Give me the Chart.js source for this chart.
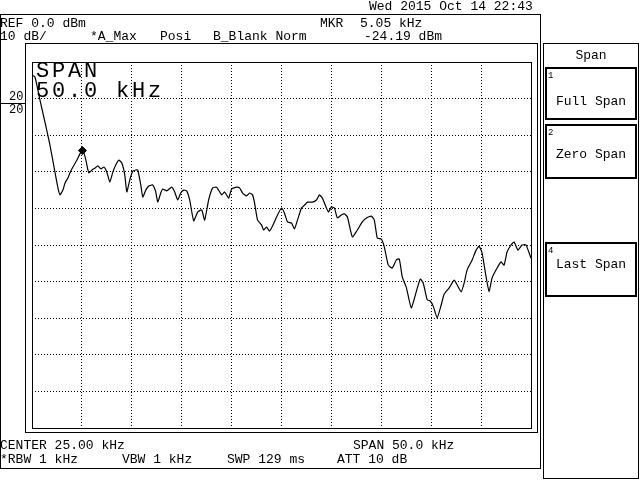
<!DOCTYPE html>
<html lang="en">
<head>
<meta charset="UTF-8">
<title>Span 50.0 kHz</title>
<script src="https://cdn.jsdelivr.net/npm/chart.js"></script>
<style>
  body { margin: 0; background: #fff; }
  #wrap { position: relative; width: 640px; height: 480px; overflow: hidden;
          font-family: "Liberation Mono", "DejaVu Sans Mono", monospace; font-size: 13px; color: #000; }
  #wrap canvas { position: absolute; left: 0; top: 0; }
  .t { position: absolute; white-space: pre; line-height: 1; }
  .box { position: absolute; border: 1px solid #000; box-sizing: border-box; }
  .btn { position: absolute; left: 545px; width: 92px; border: 2px solid #000; box-sizing: border-box; }
  .btn .n { position: absolute; left: 1px; top: 2px; font-size: 9px; }
  .btn .l { position: absolute; left: 0; right: 0; text-align: center; }
  .big { font-size: 22px; letter-spacing: 2.8px; }
</style>
</head>
<body>
<div id="wrap">
  <canvas id="trace" width="640" height="480"></canvas>

  <!-- frames -->
  <div class="box" style="left:0;top:14px;width:541px;height:455px"></div>
  <div class="box" style="left:25px;top:43px;width:513px;height:390px"></div>
  <div class="box" style="left:543px;top:43px;width:96px;height:436px"></div>
  <div style="position:absolute;left:0;top:103px;width:25px;height:1px;background:#000"></div>

  <!-- header -->
  <div class="t" style="left:369px;top:0px">Wed 2015 Oct 14 22:43</div>
  <div class="t" style="left:0;top:17px">REF 0.0 dBm</div>
  <div class="t" style="left:0;top:30px">10 dB/</div>
  <div class="t" style="left:90px;top:30px">*A_Max</div>
  <div class="t" style="left:160px;top:30px">Posi</div>
  <div class="t" style="left:213px;top:30px">B_Blank Norm</div>
  <div class="t" style="left:320px;top:17px">MKR</div>
  <div class="t" style="left:360px;top:17px">5.05 kHz</div>
  <div class="t" style="left:364px;top:30px">-24.19 dBm</div>

  <!-- left scale labels -->
  <div class="t" style="left:9px;top:91px;font-size:12px">20</div>
  <div class="t" style="left:9px;top:104px;font-size:12px">20</div>

  <!-- span annotation -->
  <div class="t big" style="left:36px;top:61px">SPAN</div>
  <div class="t big" style="left:36px;top:81px">50.0 kHz</div>

  <!-- footer -->
  <div class="t" style="left:0;top:439px">CENTER 25.00 kHz</div>
  <div class="t" style="left:353px;top:439px">SPAN 50.0 kHz</div>
  <div class="t" style="left:0;top:453px">*RBW 1 kHz</div>
  <div class="t" style="left:122px;top:453px">VBW 1 kHz</div>
  <div class="t" style="left:227px;top:453px">SWP 129 ms</div>
  <div class="t" style="left:337px;top:453px">ATT 10 dB</div>

  <!-- soft key panel -->
  <div class="t" style="left:543px;width:96px;text-align:center;top:49px">Span</div>
  <div class="btn" style="top:67px;height:53px"><span class="n">1</span><span class="l" style="top:25px">Full Span</span></div>
  <div class="btn" style="top:124px;height:55px"><span class="n">2</span><span class="l" style="top:21px">Zero Span</span></div>
  <div class="btn" style="top:242px;height:55px"><span class="n">4</span><span class="l" style="top:13px">Last Span</span></div>
</div>

<script>
// trace: frequency (kHz) and level (dBm)
const freqKHz = [
  0.0, 0.3, 0.8, 1.3, 1.8, 2.3, 2.6, 2.8, 3.1, 3.3, 3.6, 3.8, 4.1, 4.5, 4.8, 5.05,
  5.2, 5.4, 5.6, 5.7, 6.0, 6.3, 6.6, 6.9, 7.2, 7.5, 7.8, 8.1, 8.4, 8.7, 9.0, 9.3,
  9.5, 9.8, 10.1, 10.4, 10.6, 10.9, 11.1, 11.4, 11.7, 12.1, 12.4, 12.6, 12.9, 13.1,
  13.5, 14.0, 14.3, 14.6, 14.9, 15.2, 15.5, 15.8, 16.2, 16.6, 17.0, 17.3, 17.7, 18.1,
  18.5, 19.0, 19.3, 19.7, 20.0, 20.5, 20.8, 21.1, 21.5, 21.8, 22.1, 22.3, 22.6, 23.0,
  23.2, 23.5, 23.8, 24.1, 24.6, 25.0, 25.3, 25.6, 26.0, 26.3, 26.6, 27.0, 27.3, 27.6,
  28.1, 28.5, 28.8, 29.1, 29.5, 29.7, 30.0, 30.3, 30.6, 31.0, 31.3, 31.6, 32.1, 32.6,
  33.1, 33.5, 34.0, 34.3, 34.6, 35.0, 35.3, 35.7, 36.1, 36.5, 36.8, 37.1, 37.5, 38.0,
  38.5, 38.9, 39.2, 39.6, 39.9, 40.2, 40.6, 41.0, 41.3, 41.8, 42.3, 42.6, 43.0, 43.3,
  43.6, 44.1, 44.5, 44.8, 45.1, 45.5, 45.8, 46.1, 46.6, 47.0, 47.3, 47.6, 48.0, 48.3,
  48.7, 49.1, 49.5, 50.0
];
const levelDbm = [
  -3.6, -4.1, -10.4, -16.4, -22.7, -30.1, -34.4, -36.3, -35.0, -33.1, -31.7, -30.3, -28.7, -26.8, -25.1, -24.19,
  -24.9, -26.8, -29.5, -30.3, -29.5, -29.0, -28.4, -29.2, -28.7, -30.1, -32.8, -30.1, -28.1, -26.8, -27.6, -30.9,
  -35.5, -32.2, -29.8, -29.5, -29.5, -33.6, -36.9, -35.0, -33.9, -33.6, -35.5, -38.3, -35.8, -34.7,
  -35.2, -34.2, -35.5, -37.7, -35.8, -35.0, -35.2, -37.7, -43.4, -41.0, -40.4, -43.2, -37.7, -34.4,
  -34.2, -36.3, -35.5, -37.2, -34.7, -34.2, -34.4, -35.8, -36.6, -35.8, -36.3, -38.5, -43.2, -44.5,
  -45.9, -45.1, -46.2, -44.8, -41.8, -39.9, -41.3, -43.7, -44.0, -45.6, -43.2, -39.9, -39.1, -38.3,
  -38.3, -37.7, -36.3, -37.2, -39.9, -41.0, -39.6, -39.9, -42.6, -41.8, -41.5, -42.3, -47.8, -45.9,
  -43.7, -42.6, -42.1, -43.2, -48.1, -48.4, -50.5, -55.5, -56.3, -54.1, -53.8, -58.7, -61.5, -67.2,
  -62.8, -59.3, -60.4, -65.0, -65.3, -66.7, -69.9, -66.4, -63.4, -61.7, -59.6, -60.9, -62.8, -60.4,
  -56.8, -54.1, -51.4, -50.3, -52.2, -58.7, -62.8, -59.0, -56.3, -54.6, -55.5, -51.9, -50.0, -49.2,
  -51.4, -50.0, -50.0, -53.6
];
const markerFreq = [5.05];
const markerLevel = [-24.19];
const refLevel = 0;      // dBm, top of screen
const dbPerDiv = 10;
const spanKHz = 50;

const plotBox = {
  id: 'plotBox',
  afterDraw(chart) {
    const { ctx, chartArea: a } = chart;
    ctx.save();
    ctx.strokeStyle = '#000';
    ctx.lineWidth = 1;
    ctx.strokeRect(Math.round(a.left) + 0.5, Math.round(a.top) + 0.5,
                   Math.round(a.right - a.left), Math.round(a.bottom - a.top));
    ctx.restore();
  }
};

const gridOpts = { color: '#000', lineWidth: 1, drawTicks: false };
const borderOpts = { display: false, dash: [1, 2] };

new Chart(document.getElementById('trace'), {
  type: 'line',
  data: {
    datasets: [
      {
        data: freqKHz.map((f, i) => ({ x: f, y: levelDbm[i] })),
        borderColor: '#000',
        borderWidth: 1.2,
        pointRadius: 0,
        tension: 0.15
      },
      {
        data: markerFreq.map((f, i) => ({ x: f, y: markerLevel[i] })),
        showLine: false,
        pointStyle: 'rectRot',
        pointRadius: 4,
        backgroundColor: '#000',
        borderColor: '#000'
      }
    ]
  },
  options: {
    responsive: false,
    animation: false,
    devicePixelRatio: 1,
    layout: { padding: { left: 32, right: 109, top: 62, bottom: 52 } },
    plugins: { legend: { display: false }, tooltip: { enabled: false } },
    scales: {
      x: {
        type: 'linear', min: 0, max: spanKHz,
        ticks: { display: false, stepSize: spanKHz / 10 },
        grid: gridOpts, border: borderOpts
      },
      y: {
        min: refLevel - 10 * dbPerDiv, max: refLevel,
        ticks: { display: false, stepSize: dbPerDiv },
        grid: gridOpts, border: borderOpts
      }
    }
  },
  plugins: [plotBox]
});
</script>
</body>
</html>
